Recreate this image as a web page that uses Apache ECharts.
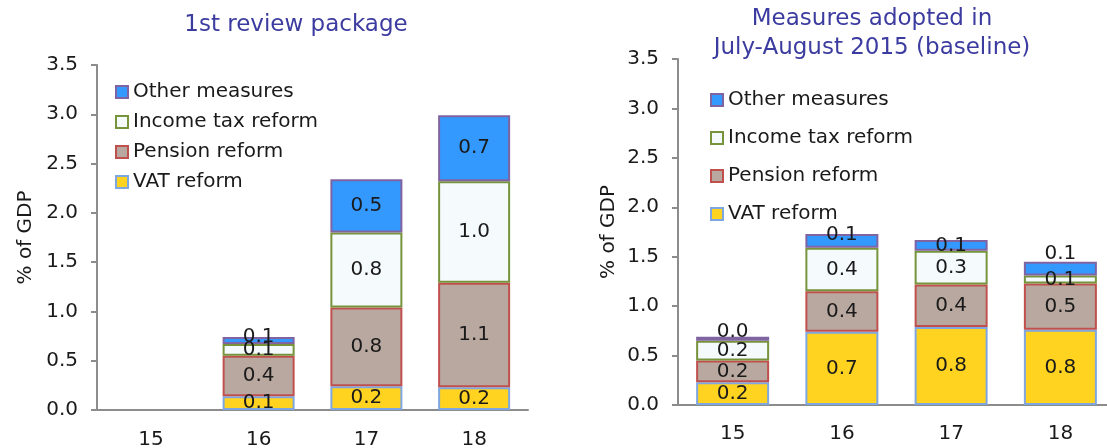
<!DOCTYPE html>
<html>
<head>
<meta charset="utf-8">
<script src="https://cdn.jsdelivr.net/npm/echarts@6/dist/echarts.min.js"></script>
<style>
  html, body { margin: 0; padding: 0; background: #ffffff; }
  #chart { width: 1107px; height: 448px; }
</style>
</head>
<body>
<div id="chart"></div>
<script>
// ---- Data ----
const categories = ['15', '16', '17', '18'];
const yTicks = ['0.0', '0.5', '1.0', '1.5', '2.0', '2.5', '3.0', '3.5'];
const seriesNames = ['VAT reform', 'Pension reform', 'Income tax reform', 'Other measures'];

// 1st review package (% of GDP)
const reviewVat     = [null, 0.14, 0.24, 0.23];
const reviewPension = [null, 0.41, 0.80, 1.06];
const reviewIncome  = [null, 0.12, 0.76, 1.03];
const reviewOther   = [null, 0.07, 0.54, 0.67];

// Measures adopted in July-August 2015 (baseline) (% of GDP)
const baseVat     = [0.23, 0.74, 0.79, 0.76];
const basePension = [0.22, 0.41, 0.43, 0.47];
const baseIncome  = [0.20, 0.44, 0.34, 0.08];
const baseOther   = [0.04, 0.14, 0.11, 0.14];

// ---- Styles ----
const FONT = 'DejaVu Sans';
const TEXT = '#1a1a1a';
const AXIS = '#8c8c8c';
const TITLE = '#3c3ca0';
const fills   = ['#FFD320', '#B8A8A0', '#F5FAFD', '#3399FF'];
const borders = ['#7EA6E0', '#C0504D', '#77933C', '#8064A2'];
// small vertical label nudges (grid-series-category -> px), as placed in the original
const labelNudge = { '0-3-1': -4, '1-3-0': -7, '1-3-1': -6, '1-3-3': -15 };

function makeSeries(idx, data, gi, barW) {
  return {
    name: seriesNames[idx],
    type: 'bar',
    stack: 'g' + gi,
    xAxisIndex: gi,
    yAxisIndex: gi,
    barWidth: barW,
    data: data.map((v, j) => {
      const dy = labelNudge[gi + '-' + idx + '-' + j];
      return dy ? { value: v, label: { offset: [0, dy] } } : v;
    }),
    itemStyle: { color: fills[idx], borderColor: borders[idx], borderWidth: 2 },
    label: {
      show: true,
      position: 'inside',
      fontFamily: FONT,
      fontSize: 20,
      color: TEXT,
      formatter: p => (p.value == null ? '' : Number(p.value).toFixed(1))
    },
    emphasis: { disabled: true }
  };
}

const leftData = [reviewVat, reviewPension, reviewIncome, reviewOther];
const rightData = [baseVat, basePension, baseIncome, baseOther];
const series = [];
leftData.forEach((d, i) => series.push(makeSeries(i, d, 0, 72)));
rightData.forEach((d, i) => series.push(makeSeries(i, d, 1, 73)));

function yAxis(gi, gap) {
  return {
    type: 'value', gridIndex: gi, min: 0, max: 3.5, interval: 0.5,
    name: '% of GDP', nameLocation: 'middle', nameRotate: 90, nameGap: gap,
    nameTextStyle: { fontFamily: FONT, fontSize: 20, color: TEXT },
    axisLine: { show: true, lineStyle: { color: AXIS, width: 2 } },
    axisTick: { show: true, length: 6, inside: false, lineStyle: { color: AXIS, width: 2 } },
    axisLabel: { fontFamily: FONT, fontSize: 20, color: TEXT, margin: 19,
                 formatter: (v) => yTicks[Math.round(v / 0.5)] },
    splitLine: { show: false }
  };
}
function xAxis(gi, margin) {
  return {
    type: 'category', gridIndex: gi, data: categories,
    axisLine: { show: true, lineStyle: { color: AXIS, width: 2 } },
    axisTick: { show: false },
    axisLabel: { fontFamily: FONT, fontSize: 20, color: TEXT, margin: margin }
  };
}
function legend(left, top, gap) {
  return {
    orient: 'vertical', left: left, top: top, padding: 0,
    data: ['Other measures', 'Income tax reform', 'Pension reform', 'VAT reform'],
    icon: 'rect', itemWidth: 12, itemHeight: 12, itemGap: gap,
    selectedMode: false,
    textStyle: { fontFamily: FONT, fontSize: 20, color: TEXT, lineHeight: 20 }
  };
}

const option = {
  animation: false,
  backgroundColor: '#ffffff',
  title: [
    { text: '1st review package', left: 296, top: 13, textAlign: 'center', padding: 0,
      textStyle: { fontFamily: FONT, fontSize: 23, fontWeight: 'normal', color: TITLE, lineHeight: 25 } },
    { text: 'Measures adopted in\nJuly-August 2015 (baseline)', left: 872, top: 5, textAlign: 'center', padding: 0,
      textStyle: { fontFamily: FONT, fontSize: 23, fontWeight: 'normal', color: TITLE, lineHeight: 29 } }
  ],
  legend: [legend(115, 82, 10), legend(710, 90, 18)],
  grid: [
    { left: 97, right: 579, top: 65, bottom: 38, outerBoundsMode: 'none', containLabel: false },
    { left: 678, right: -8, top: 59, bottom: 43, outerBoundsMode: 'none', containLabel: false }
  ],
  xAxis: [xAxis(0, 20), xAxis(1, 19)],
  yAxis: [yAxis(0, 61), yAxis(1, 59)],
  series: series
};

const chart = echarts.init(document.getElementById('chart'), null, { renderer: 'canvas' });
chart.setOption(option);
</script>
</body>
</html>
